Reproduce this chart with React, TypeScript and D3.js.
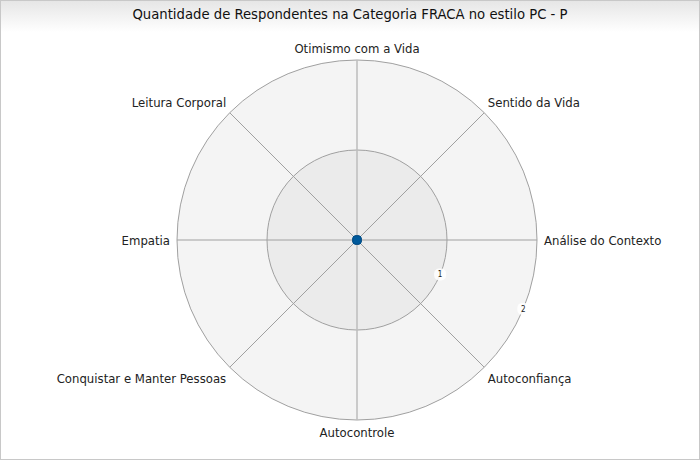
import React from "react";
import * as d3 from "d3";

const categories = [
  "Otimismo com a Vida",
  "Sentido da Vida",
  "Análise do Contexto",
  "Autoconfiança",
  "Autocontrole",
  "Conquistar e Manter Pessoas",
  "Empatia",
  "Leitura Corporal",
];
const seriesValues = [0, 0, 0, 0, 0, 0, 0, 0];
const tickValues = [1, 2];
const title = "Quantidade de Respondentes na Categoria FRACA no estilo PC - P";

const W = 700, H = 460;
const cx = 357, cy = 240, R = 180;
const FONT = "'DejaVu Sans Condensed', 'Liberation Sans Narrow', 'DejaVu Sans', sans-serif";

export default function App() {
  const r = d3.scaleLinear().domain([0, 2]).range([0, R]);
  const n = categories.length;
  const ang = (i: number) => (i * 2 * Math.PI) / n; // clockwise from top
  const px = (i: number, v: number) => cx + Math.sin(ang(i)) * r(v);
  const py = (i: number, v: number) => cy - Math.cos(ang(i)) * r(v);
  const line = d3
    .lineRadial<number>()
    .angle((_, i) => ang(i))
    .radius((d) => r(d))
    .curve(d3.curveLinearClosed);
  const tickAng = (2.5 * 2 * Math.PI) / n;
  return (
    <svg width={W} height={H} style={{ display: "block", position: "absolute", left: 0, top: 0 }}>
      <defs>
        <linearGradient id="tg" x1="0" y1="0" x2="0" y2="1">
          <stop offset="0" stopColor="#e6e6e6" />
          <stop offset="1" stopColor="#ffffff" />
        </linearGradient>
      </defs>
      <rect x={0.5} y={0.5} width={W - 1} height={H - 1} fill="#fff" stroke="#c8c8c8" />
      <rect x={1} y={1} width={W - 2} height={31} fill="url(#tg)" />
      <text x={W / 2} y={19} textAnchor="middle" fontFamily={FONT} fontSize={14.7} fill="#111">
        {title}
      </text>
      <circle cx={cx} cy={cy} r={r(2)} fill="#f4f4f4" stroke="#a0a0a0" strokeWidth={1} />
      <circle cx={cx} cy={cy} r={r(1)} fill="#ebebeb" stroke="#a0a0a0" strokeWidth={1} />
      {categories.map((c, i) => (
        <line key={c} x1={cx} y1={cy} x2={px(i, 2)} y2={py(i, 2)} stroke={i % 4 === 0 ? "#bdbdbd" : "#a0a0a0"} strokeWidth={i % 4 === 0 ? 1.5 : 1} />
      ))}
      {tickValues.map((t) => {
        const x = cx + Math.sin(tickAng) * r(t);
        const y = cy - Math.cos(tickAng) * r(t);
        return (
          <g key={t}>
            <rect x={x - 6} y={y - 6} width={12} height={12} rx={5} fill="#fff" opacity={0.85} />
            <text x={x} y={y + 3} textAnchor="middle" fontFamily={FONT} fontSize={8} fill="#222">
              {t}
            </text>
          </g>
        );
      })}
      {categories.map((c, i) => {
        const s = Math.sin(ang(i));
        const co = Math.cos(ang(i));
        const lr = R + (Math.abs(s) > 0.9 || Math.abs(co) > 0.9 ? 7 : 5);
        const x = cx + s * lr;
        const y = cy - co * lr;
        const anchor = Math.abs(s) < 0.01 ? "middle" : s > 0 ? "start" : "end";
        let dy = 4.5;
        if (co > 0.9) dy = 0;
        else if (co < -0.9) dy = 10;
        else if (co > 0.5) dy = -2;
        else if (co < -0.5) dy = 12;
        return (
          <text key={c} x={x} y={y + dy} textAnchor={anchor} fontFamily={FONT} fontSize={13} fill="#222">
            {c}
          </text>
        );
      })}
      <path d={line(seriesValues) || ""} transform={`translate(${cx},${cy})`} fill="none" stroke="#005a9c" strokeWidth={2} />
      {seriesValues.map((v, i) => (
        <rect key={i} x={px(i, v) - 4} y={py(i, v) - 4} width={8} height={8} rx={2.5} fill="#005a9c" stroke="#004a80" strokeWidth={0.5} />
      ))}
    </svg>
  );
}
